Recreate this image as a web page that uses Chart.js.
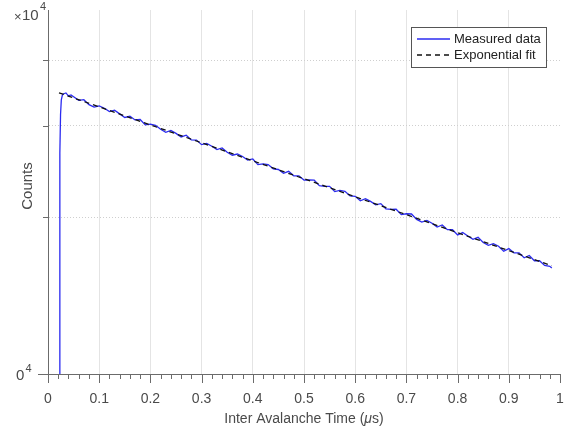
<!DOCTYPE html>
<html>
<head>
<meta charset="utf-8">
<script src="https://cdn.jsdelivr.net/npm/chart.js@4.4.1/dist/chart.umd.min.js"></script>
<style>
  html, body { margin: 0; padding: 0; background: #fff; }
  #wrap { width: 573px; height: 432px; position: relative; }
</style>
</head>
<body>
<div id="wrap"><canvas id="chart"></canvas></div>
<script>
// measured histogram (time in us, counts)
const timeUs = [0.0225, 0.0229, 0.0234, 0.0245, 0.026, 0.028, 0.03, 0.035, 0.04, 0.045, 0.05, 0.06, 0.07, 0.08, 0.09, 0.10,
  0.11, 0.12, 0.13, 0.14, 0.15, 0.16, 0.17, 0.18, 0.19, 0.20, 0.21, 0.22, 0.23, 0.24, 0.25, 0.26, 0.27, 0.28, 0.29, 0.30,
  0.31, 0.32, 0.33, 0.34, 0.35, 0.36, 0.37, 0.38, 0.39, 0.40, 0.41, 0.42, 0.43, 0.44, 0.45, 0.46, 0.47, 0.48, 0.49, 0.50,
  0.51, 0.52, 0.53, 0.54, 0.55, 0.56, 0.57, 0.58, 0.59, 0.60, 0.61, 0.62, 0.63, 0.64, 0.65, 0.66, 0.67, 0.68, 0.69, 0.70,
  0.71, 0.72, 0.73, 0.74, 0.75, 0.76, 0.77, 0.78, 0.79, 0.80, 0.81, 0.82, 0.83, 0.84, 0.85, 0.86, 0.87, 0.88, 0.89, 0.90,
  0.91, 0.92, 0.93, 0.94, 0.95, 0.96, 0.97, 0.98, 0.984];
const measuredCounts = [10000, 18000, 26500, 31500, 33600, 34300, 34500, 34650, 34200, 34350, 34070, 33530, 33630, 32900, 32540, 32710,
  32385, 31900, 32100, 31590, 31090, 31250, 30750, 30820, 30090, 30180, 30030, 29500, 29120, 29350, 28980, 28520, 28750, 28150, 28130, 27570,
  27710, 27380, 26980, 27170, 26660, 26310, 26450, 26160, 25750, 25880, 25240, 25320, 25240, 24770, 24700, 24280, 24500, 24020, 24020, 23570,
  23600, 23570, 22990, 22920, 22930, 22400, 22520, 22430, 21970, 21940, 21510, 21710, 21450, 21130, 21240, 20760, 20700, 20720, 20230, 20310,
  20290, 19810, 19580, 19720, 19480, 19150, 19330, 18930, 18930, 18500, 18690, 18410, 18140, 18300, 17890, 17660, 17800, 17590, 17210, 17410,
  17090, 17090, 16720, 16890, 16500, 16500, 16160, 16100, 15980];

// exponential fit end points (a straight line on the log axis)
const fitTime = [0.0215, 0.984];
const fitCounts = [34670, 16140];

const xTickValues = [0, 0.1, 0.2, 0.3, 0.4, 0.5, 0.6, 0.7, 0.8, 0.9, 1];
const xTickLabels = ['0', '0.1', '0.2', '0.3', '0.4', '0.5', '0.6', '0.7', '0.8', '0.9', '1'];
const yTickValues = [10000, 20000, 30000, 40000, 50000];

const seriesNames = ['Measured data', 'Exponential fit'];
const FONT = '"Liberation Sans", Arial, Helvetica, sans-serif';
const AXIS = '#6b6b6b';
const TEXT = '#4a4a4a';
const BLUE = '#2b2bf0';

// labels, ticks, titles and legend drawn on top
const decorations = {
  id: 'decorations',
  afterDraw(chart) {
    const { ctx, chartArea: a, scales: { x, y } } = chart;
    ctx.save();
    ctx.strokeStyle = AXIS;
    ctx.lineWidth = 1;
    // x ticks, major + minor
    ctx.beginPath();
    for (let i = 0; i <= 50; i++) {
      const px = Math.round(x.getPixelForValue(i / 50)) + 0.5;
      const len = i % 5 === 0 ? 9 : 5;
      ctx.moveTo(px, a.bottom);
      ctx.lineTo(px, a.bottom + len);
    }
    // y ticks
    yTickValues.slice(0, 4).forEach((v, i) => {
      const py = Math.round(y.getPixelForValue(v)) + 0.5;
      const len = i === 0 ? 10 : 5;
      ctx.moveTo(a.left, py);
      ctx.lineTo(a.left - len, py);
    });
    ctx.stroke();

    // x tick labels
    ctx.fillStyle = TEXT;
    ctx.font = '14px ' + FONT;
    ctx.textAlign = 'center';
    ctx.textBaseline = 'middle';
    xTickValues.forEach((v, i) => ctx.fillText(xTickLabels[i], x.getPixelForValue(v), a.bottom + 25));

    // y bottom label (left part clipped in the source) and exponent
    ctx.textAlign = 'left';
    ctx.font = '15px ' + FONT;
    ctx.fillText('0', 16, a.bottom + 2);
    ctx.font = '11px ' + FONT;
    ctx.fillText('4', 25.5, a.bottom - 5);
    ctx.font = '13px ' + FONT;
    ctx.fillText('\u00d7', 14, 17);
    ctx.font = '15px ' + FONT;
    ctx.fillText('10', 22, 16);
    ctx.font = '11px ' + FONT;
    ctx.fillText('4', 40, 7);

    // x title with italic mu
    const parts = [['Inter Avalanche Time (', ''], ['\u03bc', 'italic '], ['s)', '']];
    let total = 0;
    parts.forEach(p => { ctx.font = p[1] + '14px ' + FONT; total += ctx.measureText(p[0]).width; });
    let tx = (a.left + a.right) / 2 - total / 2;
    parts.forEach(p => {
      ctx.font = p[1] + '14px ' + FONT;
      ctx.fillText(p[0], tx, a.bottom + 45);
      tx += ctx.measureText(p[0]).width;
    });

    // y title
    ctx.save();
    ctx.translate(28, 186);
    ctx.rotate(-Math.PI / 2);
    ctx.textAlign = 'center';
    ctx.font = '15px ' + FONT;
    ctx.fillText('Counts', 0, 0);
    ctx.restore();

    // legend box
    const lx = 411, ly = 27, lw = 135, lh = 40;
    ctx.fillStyle = '#fff';
    ctx.fillRect(lx, ly, lw, lh);
    ctx.strokeStyle = '#555';
    ctx.lineWidth = 1;
    ctx.strokeRect(lx + 0.5, ly + 0.5, lw, lh);
    chart.data.datasets.forEach((ds, i) => {
      const yy = ly + 12 + i * 16;
      ctx.strokeStyle = ds.borderColor;
      ctx.lineWidth = ds.borderWidth;
      ctx.setLineDash(ds.borderDash || []);
      ctx.beginPath();
      ctx.moveTo(lx + 6, yy);
      ctx.lineTo(lx + 39, yy);
      ctx.stroke();
      ctx.setLineDash([]);
      ctx.fillStyle = '#222';
      ctx.font = '13px ' + FONT;
      ctx.textAlign = 'left';
      ctx.fillText(ds.label, lx + 43, yy + 0.5);
    });
    ctx.restore();
  }
};

new Chart(document.getElementById('chart'), {
  type: 'scatter',
  data: {
    datasets: [
      {
        label: seriesNames[0],
        data: timeUs.map((t, i) => ({ x: t, y: measuredCounts[i] })),
        showLine: true,
        borderColor: BLUE,
        borderWidth: 1.3,
        pointRadius: 0,
        order: 2
      },
      {
        label: seriesNames[1],
        data: fitTime.map((t, i) => ({ x: t, y: fitCounts[i] })),
        showLine: true,
        borderColor: '#111',
        borderWidth: 1.3,
        borderDash: [5, 4],
        pointRadius: 0,
        order: 1
      }
    ]
  },
  options: {
    responsive: true,
    maintainAspectRatio: false,
    animation: false,
    events: [],
    layout: { padding: { left: 48, right: 13, top: 10, bottom: 58 } },
    plugins: { legend: { display: false }, tooltip: { enabled: false } },
    scales: {
      x: {
        type: 'linear',
        min: 0,
        max: 1,
        ticks: { display: false, stepSize: 0.1 },
        afterBuildTicks: (s) => { s.ticks = xTickValues.map(v => ({ value: v })); },
        grid: {
          drawTicks: false,
          color: (c) => (c.tick && (c.tick.value === 0 || c.tick.value === 1)) ? 'rgba(0,0,0,0)' : '#e4e4e4',
          lineWidth: 1
        },
        border: { display: true, color: AXIS, width: 1 }
      },
      y: {
        type: 'logarithmic',
        min: 10000,
        max: 50000,
        ticks: { display: false },
        afterBuildTicks: (s) => { s.ticks = yTickValues.map(v => ({ value: v })); },
        grid: {
          drawTicks: false,
          color: (c) => (c.tick && (c.tick.value === 10000 || c.tick.value === 50000)) ? 'rgba(0,0,0,0)' : '#cfcfcf',
          lineWidth: 1
        },
        border: { display: true, color: AXIS, width: 1, dash: [1, 2] }
      }
    }
  },
  plugins: [decorations]
});
</script>
</body>
</html>
